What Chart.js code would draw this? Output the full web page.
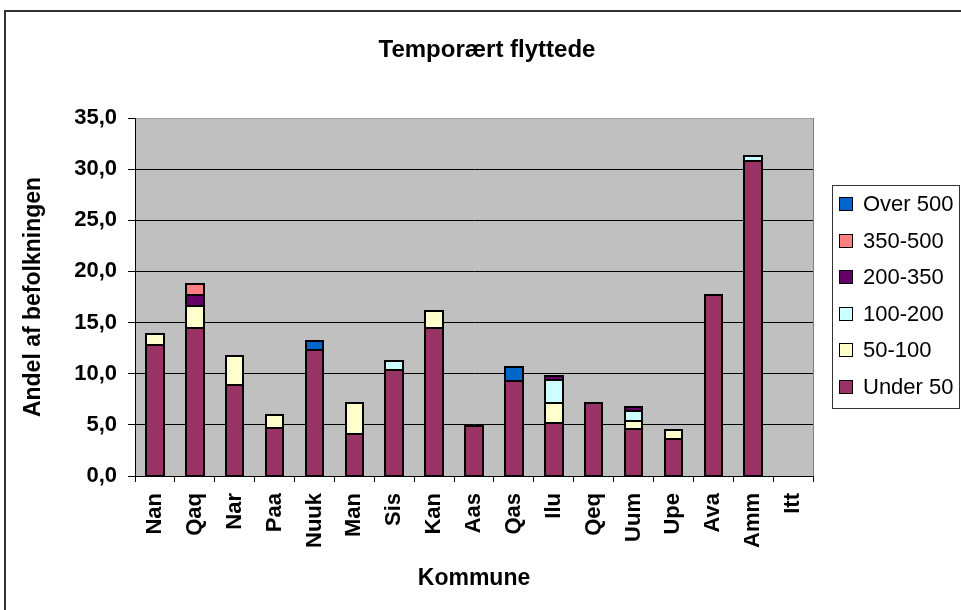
<!DOCTYPE html>
<html>
<head>
<meta charset="utf-8">
<title>Temporært flyttede</title>
<script src="https://cdn.jsdelivr.net/npm/chart.js@4.4.1/dist/chart.umd.min.js"></script>
<style>
  html, body { margin: 0; padding: 0; background: #fff; }
  canvas { display: block; }
</style>
</head>
<body>
<canvas id="chart" width="961" height="610"></canvas>
<script>
// Kommuner langs x-aksen
const kommuner = ['Nan', 'Qaq', 'Nar', 'Paa', 'Nuuk', 'Man', 'Sis', 'Kan', 'Aas',
                  'Qas', 'Ilu', 'Qeq', 'Uum', 'Upe', 'Ava', 'Amm', 'Itt'];

// Andel af befolkningen (%) fordelt på bygdestørrelse
const under50   = [12.8, 14.5, 8.9, 4.7, 12.3, 4.1, 10.4, 14.5, 4.9, 9.3, 5.2, 7.1, 4.6, 3.6, 17.7, 30.8, 0];
const fra50     = [1.1, 2.1, 2.8, 1.3, 0, 3.0, 0, 1.6, 0, 0, 1.9, 0, 0.8, 0.9, 0, 0, 0];
const fra100    = [0, 0, 0, 0, 0, 0, 0.8, 0, 0, 0, 2.3, 0, 1.0, 0, 0, 0.5, 0];
const fra200    = [0, 1.1, 0, 0, 0, 0, 0, 0, 0, 0, 0.35, 0, 0.3, 0, 0, 0, 0];
const fra350    = [0, 1.05, 0, 0, 0, 0, 0, 0, 0, 0, 0, 0, 0, 0, 0, 0, 0];
const over500   = [0, 0, 0, 0, 0.85, 0, 0, 0, 0, 1.35, 0, 0, 0, 0, 0, 0, 0];

const yTicks = [0, 5, 10, 15, 20, 25, 30, 35];

const serier = [
  { label: 'Under 50',  data: under50, color: '#993366' },
  { label: '50-100',    data: fra50,   color: '#FFFFCC' },
  { label: '100-200',   data: fra100,  color: '#CCFFFF' },
  { label: '200-350',   data: fra200,  color: '#660066' },
  { label: '350-500',   data: fra350,  color: '#FF8080' },
  { label: 'Over 500',  data: over500, color: '#0066CC' }
];

const FONT = 'Arial, "Liberation Sans", sans-serif';
Chart.defaults.font.family = FONT;
Chart.defaults.color = '#000';

// sorte kanter om hvert søjlestykke, lagt på hele pixels
const kanter = {
  id: 'kanter',
  afterDatasetsDraw(chart) {
    const ctx = chart.ctx;
    ctx.save();
    ctx.strokeStyle = '#000';
    ctx.lineWidth = 2;
    chart.data.datasets.forEach((d, i) => {
      chart.getDatasetMeta(i).data.forEach((bar, j) => {
        if (d.data[j] == null) return;
        const p = bar.getProps(['x', 'y', 'base', 'width'], true);
        const l = Math.round(p.x - p.width / 2);
        const r = Math.round(p.x + p.width / 2);
        const t = Math.round(p.y);
        const b = Math.round(p.base);
        ctx.strokeRect(l, t, r - l, b - t);
      });
    });
    ctx.restore();
  }
};

// grå plotflade, titel, ramme og forklaring tegnes her
const ramme = {
  id: 'ramme',
  beforeDraw(chart) {
    const { ctx, chartArea: a } = chart;
    ctx.save();
    ctx.fillStyle = '#C0C0C0';
    ctx.fillRect(a.left, a.top, a.right - a.left, a.bottom - a.top);
    ctx.restore();
  },
  afterDraw(chart) {
    const { ctx, chartArea: a } = chart;
    ctx.save();

    // plotfladens kant
    ctx.strokeStyle = '#808080';
    ctx.lineWidth = 1;
    ctx.beginPath();
    ctx.moveTo(a.right + 0.5, a.top);
    ctx.lineTo(a.right + 0.5, a.bottom);
    ctx.stroke();

    // ydre ramme
    ctx.strokeStyle = '#333';
    ctx.lineWidth = 2;
    ctx.beginPath();
    ctx.moveTo(5, 610);
    ctx.lineTo(5, 11);
    ctx.lineTo(961, 11);
    ctx.stroke();

    // titel
    ctx.fillStyle = '#000';
    ctx.font = 'bold 24px ' + FONT;
    ctx.textAlign = 'center';
    ctx.textBaseline = 'middle';
    ctx.fillText('Temporært flyttede', 487, 50);

    // forklaring
    ctx.strokeStyle = '#333';
    ctx.lineWidth = 1;
    ctx.strokeRect(832.5, 185.5, 127, 223);
    ctx.font = '22px ' + FONT;
    ctx.textAlign = 'left';
    const ds = chart.data.datasets.slice().reverse();
    ds.forEach((d, i) => {
      const cy = 204 + i * 36.6;
      ctx.fillStyle = d.backgroundColor;
      ctx.fillRect(839.5, Math.round(cy - 7) + 0.5, 13, 13);
      ctx.strokeStyle = '#000';
      ctx.strokeRect(839.5, Math.round(cy - 7) + 0.5, 13, 13);
      ctx.fillStyle = '#000';
      ctx.fillText(d.label, 863, cy + 1);
    });
    ctx.restore();
  }
};

new Chart(document.getElementById('chart'), {
  type: 'bar',
  data: {
    labels: kommuner,
    datasets: serier.map(s => ({
      label: s.label,
      data: s.data.map(v => v > 0 ? v : null),
      backgroundColor: s.color,
      borderWidth: 0,
      barPercentage: 0.44,
      categoryPercentage: 1
    }))
  },
  options: {
    responsive: false,
    animation: false,
    layout: { padding: { top: 118, left: 0, right: 148, bottom: 0 } },
    plugins: {
      legend: { display: false },
      title: { display: false },
      tooltip: { enabled: false }
    },
    scales: {
      x: {
        stacked: true,
        afterFit(scale) { scale.height = 134; },
        grid: {
          display: true,
          offset: true,
          drawOnChartArea: false,
          tickLength: 6,
          color: '#000'
        },
        border: { color: '#000', width: 1 },
        ticks: {
          autoSkip: false,
          minRotation: 90,
          maxRotation: 90,
          padding: 11,
          font: { size: 22, weight: 'bold' }
        },
        title: {
          display: true,
          text: 'Kommune',
          font: { size: 23, weight: 'bold' },
          padding: { top: 0, bottom: 18 }
        }
      },
      y: {
        stacked: true,
        min: 0,
        max: 35,
        afterFit(scale) { scale.width = 135; },
        afterBuildTicks(scale) { scale.ticks = yTicks.map(v => ({ value: v })); },
        grid: {
          color: c => (c.tick && c.tick.value === 35) ? '#A0A0A0' : '#000',
          tickColor: '#000',
          tickLength: 7,
          lineWidth: 1
        },
        border: { color: '#000', width: 1 },
        ticks: {
          padding: 11,
          font: { size: 22, weight: 'bold' },
          callback: v => v.toFixed(1).replace('.', ',')
        },
        title: {
          display: true,
          text: 'Andel af befolkningen',
          font: { size: 23, weight: 'bold' },
          padding: { top: 20, bottom: 0 }
        }
      }
    }
  },
  plugins: [ramme, kanter]
});
</script>
</body>
</html>
